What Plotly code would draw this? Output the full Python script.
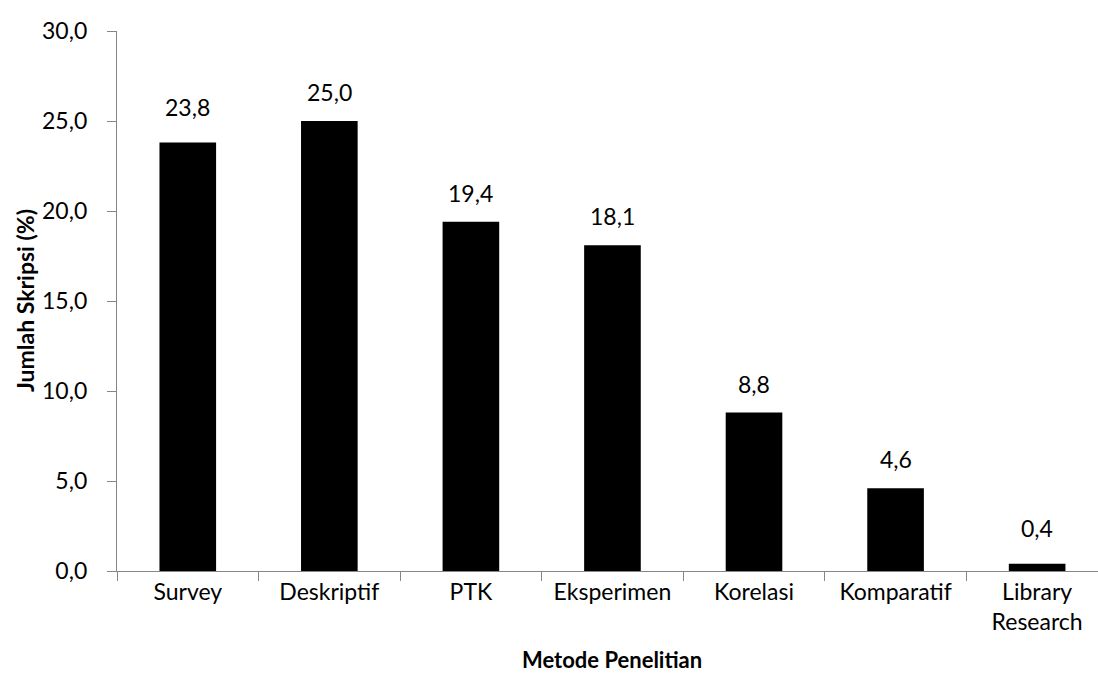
import plotly.graph_objects as go

categories = ["Survey", "Deskriptif", "PTK", "Eksperimen", "Korelasi", "Komparatif", "Library<br>Research"]
values = [23.8, 25.0, 19.4, 18.1, 8.8, 4.6, 0.4]
y_ticks = [0, 5, 10, 15, 20, 25, 30]
y_tick_labels = ["0,0", "5,0", "10,0", "15,0", "20,0", "25,0", "30,0"]

# pixel offsets of the value labels above the bar tops (style only)
label_shift = [36, 29, 29, 29, 29, 29, 36]

FONT = "Lato"
AXIS_COLOR = "#868686"

fig = go.Figure()
fig.add_trace(go.Bar(
    x=categories, y=values, width=0.4,
    marker=dict(color="#000000", line=dict(width=0)),
    hoverinfo="skip",
))

annotations = []
for c, v, s in zip(categories, values, label_shift):
    annotations.append(dict(
        x=c, y=v, xref="x", yref="y",
        text=f"{v:.1f}".replace(".", ","),
        showarrow=False, yanchor="middle", yshift=s,
        font=dict(family=FONT, size=23, color="#000000"),
    ))

annotations.append(dict(
    x=categories[3], y=0, xref="x", yref="paper",
    text="<b>Metode Penelitian</b>", showarrow=False,
    yanchor="bottom", yshift=-104,
    font=dict(family=FONT, size=22, color="#000000"),
))
annotations.append(dict(
    x=0, y=0.5, xref="paper", yref="paper",
    text="<b>Jumlah Skripsi (%)</b>", showarrow=False, textangle=-90,
    xanchor="center", yanchor="middle", xshift=-92,
    font=dict(family=FONT, size=23, color="#000000"),
))

fig.update_layout(
    width=1098, height=673,
    margin=dict(l=117, r=0, t=31, b=102),
    paper_bgcolor="#ffffff", plot_bgcolor="#ffffff",
    showlegend=False,
    font=dict(family=FONT, size=23, color="#000000"),
    annotations=annotations,
    bargap=0.6,
)
fig.update_xaxes(
    type="category",
    range=[-0.5, 6.43],
    showline=True, linecolor=AXIS_COLOR, linewidth=1.3,
    ticks="outside", tickson="boundaries", ticklen=9, tickcolor=AXIS_COLOR, tickwidth=1.3,
    showgrid=False, zeroline=False,
    tickfont=dict(family=FONT, size=23, color="#000000"),
)
fig.update_yaxes(
    range=[0, 30],
    tickvals=y_ticks, ticktext=y_tick_labels,
    showline=True, linecolor=AXIS_COLOR, linewidth=1.3,
    ticks="outside", ticklen=9, tickcolor=AXIS_COLOR, tickwidth=1.3,
    ticklabelstandoff=15,
    showgrid=False, zeroline=False,
    tickfont=dict(family=FONT, size=23, color="#000000"),
)

fig.write_html("out.html")
